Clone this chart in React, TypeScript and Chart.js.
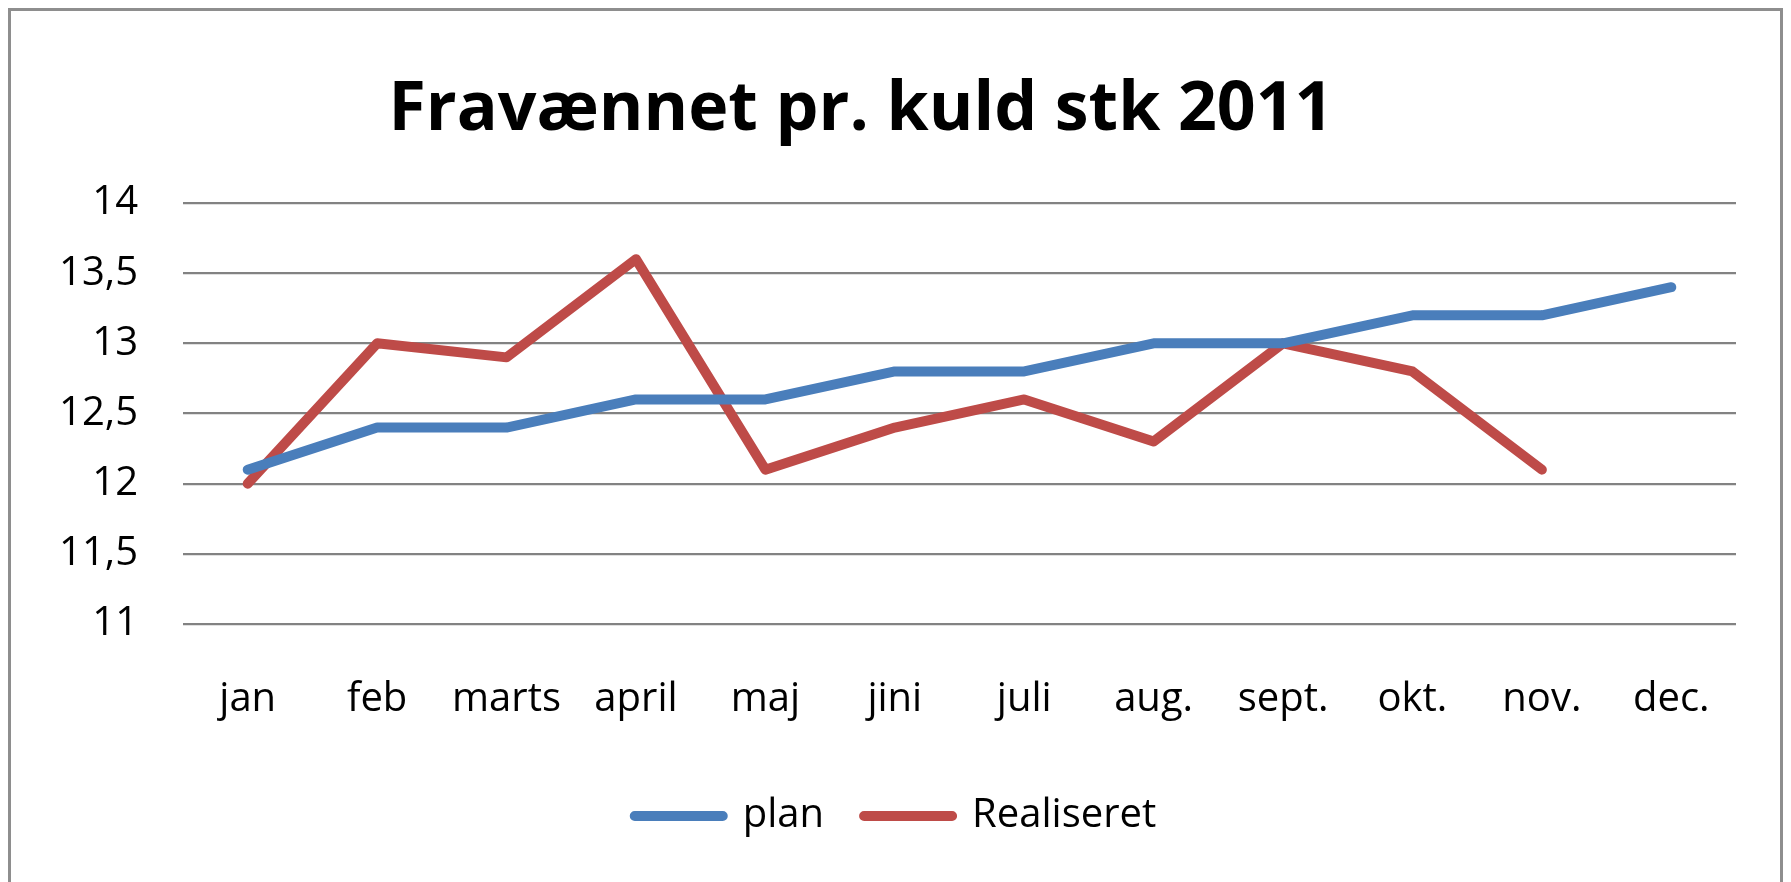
import { useEffect, useRef } from 'react';
import { Chart, registerables } from 'chart.js';

Chart.register(...registerables);

const TITLE = 'Fravænnet pr. kuld stk 2011';
const MONTHS = ['jan', 'feb', 'marts', 'april', 'maj', 'jini', 'juli', 'aug.', 'sept.', 'okt.', 'nov.', 'dec.'];
const SERIES_NAMES = ['plan', 'Realiseret'];
const PLAN = [12.1, 12.4, 12.4, 12.6, 12.6, 12.8, 12.8, 13.0, 13.0, 13.2, 13.2, 13.4];
const REALISERET = [12.0, 13.0, 12.9, 13.6, 12.1, 12.4, 12.6, 12.3, 13.0, 12.8, 12.1, null];
const Y_TICK_LABELS = ['11', '11,5', '12', '12,5', '13', '13,5', '14'];

const FONT = '"Open Sans", sans-serif';
const BLUE = '#4A7EBB';
const RED = '#BE4B48';

const titlePlugin = {
  id: 'manualTitle',
  afterDraw(chart: any) {
    const ctx = chart.ctx;
    ctx.save();
    ctx.font = `bold 68px ${FONT}`;
    ctx.fillStyle = '#000';
    ctx.textAlign = 'center';
    ctx.textBaseline = 'alphabetic';
    ctx.fillText(TITLE, 850, 119);
    ctx.restore();
  },
};

export default function App() {
  const ref = useRef<HTMLCanvasElement | null>(null);

  useEffect(() => {
    if (!ref.current) return;
    const chart = new Chart(ref.current, {
      type: 'line',
      data: {
        labels: MONTHS,
        datasets: [
          {
            label: SERIES_NAMES[0],
            data: PLAN,
            borderColor: BLUE,
            backgroundColor: BLUE,
            borderWidth: 10,
            borderCapStyle: 'round',
            borderJoinStyle: 'round',
            pointRadius: 0,
            tension: 0,
          },
          {
            label: SERIES_NAMES[1],
            data: REALISERET,
            borderColor: RED,
            backgroundColor: RED,
            borderWidth: 10,
            borderCapStyle: 'round',
            borderJoinStyle: 'round',
            pointRadius: 0,
            tension: 0,
          },
        ],
      },
      options: {
        animation: false,
        responsive: true,
        maintainAspectRatio: false,
        layout: { padding: { top: 192, left: 0, right: 0, bottom: 36 } },
        plugins: {
          title: { display: false },
          tooltip: { enabled: false },
          legend: {
            position: 'bottom',
            labels: {
              boxWidth: 88,
              boxHeight: 0,
              padding: 40,
              color: '#000',
              font: { family: FONT, size: 40 },
            },
          },
        },
        scales: {
          x: {
            offset: true,
            grid: { display: false },
            border: { display: false },
            ticks: {
              color: '#000',
              font: { family: FONT, size: 40 },
              padding: 44,
              maxRotation: 0,
              autoSkip: false,
            },
            afterFit: (s: any) => {
              s.height = 132;
            },
          },
          y: {
            min: 11,
            max: 14,
            grid: { color: '#828282', lineWidth: 2.3, drawTicks: false },
            border: { display: false },
            ticks: {
              stepSize: 0.5,
              color: '#000',
              padding: 45,
              font: { family: FONT, size: 40 },
              callback: (_v: any, i: number) => Y_TICK_LABELS[i],
            },
            afterFit: (s: any) => {
              s.width = 172;
            },
          },
          yRight: {
            type: 'linear',
            position: 'right',
            grid: { display: false },
            border: { display: false },
            ticks: { display: false },
            afterFit: (s: any) => {
              s.width = 44;
            },
          },
        },
      },
      plugins: [titlePlugin],
    } as any);
    return () => chart.destroy();
  }, []);

  return (
    <div
      style={{
        boxSizing: 'border-box',
        width: 1775,
        height: 874,
        border: '3px solid #8e8e8e',
        borderBottom: 'none',
        background: '#fff',
      }}
    >
      <div style={{ position: 'relative', width: 1769, height: 871 }}>
        <canvas ref={ref} />
      </div>
    </div>
  );
}
